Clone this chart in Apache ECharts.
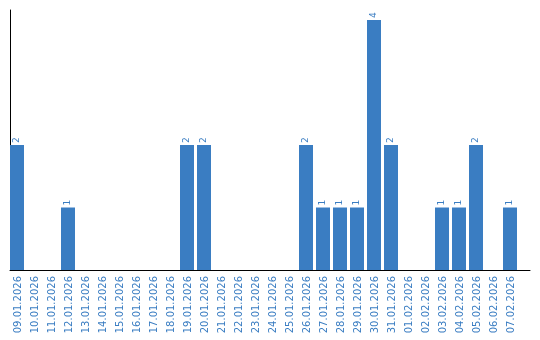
<!DOCTYPE html>
<html><head><meta charset="utf-8">
<script src="https://cdn.jsdelivr.net/npm/echarts@6/dist/echarts.min.js"></script>
<style>html,body{margin:0;padding:0;background:#fff}#c{width:540px;height:340px}</style>
</head><body><div id="c"></div>
<script>
var categories = ["09.01.2026","10.01.2026","11.01.2026","12.01.2026","13.01.2026","14.01.2026","15.01.2026","16.01.2026","17.01.2026","18.01.2026","19.01.2026","20.01.2026","21.01.2026","22.01.2026","23.01.2026","24.01.2026","25.01.2026","26.01.2026","27.01.2026","28.01.2026","29.01.2026","30.01.2026","31.01.2026","01.02.2026","02.02.2026","03.02.2026","04.02.2026","05.02.2026","06.02.2026","07.02.2026"];
var counts = [2,0,0,1,0,0,0,0,0,0,2,2,0,0,0,0,0,2,1,1,1,4,2,0,0,1,1,2,0,1];
var blue = '#3a7dc2';
var chart = echarts.init(document.getElementById('c'));
chart.setOption({
  animation:false,
  grid:[{left:10,top:10,width:510,bottom:70},{left:10,top:10,width:520,bottom:70}],
  xAxis:[{type:'category',gridIndex:0,data:categories,
    axisLine:{show:false},axisTick:{show:false},
    axisLabel:{interval:0,rotate:90,color:blue,fontFamily:'DejaVu Sans',fontSize:10,margin:6}},
    {type:'value',gridIndex:1,min:0,max:1,axisLine:{show:true,lineStyle:{color:'#000',width:1}},
     axisTick:{show:false},axisLabel:{show:false},splitLine:{show:false}}],
  yAxis:[{type:'value',gridIndex:0,min:0,max:4.16,axisLine:{show:true,lineStyle:{color:'#000',width:1}},
    axisTick:{show:false},axisLabel:{show:false},splitLine:{show:false}},
    {type:'value',gridIndex:1,show:false}],
  series:[{type:'bar',xAxisIndex:0,yAxisIndex:0,data:counts,barWidth:14,barGap:0,
    itemStyle:{color:blue},
    label:{show:true,position:'top',rotate:90,align:'left',verticalAlign:'middle',distance:2,
      color:blue,fontFamily:'DejaVu Sans',fontSize:9,
      formatter:function(p){return p.value?String(p.value):'';}}},
    {type:'bar',xAxisIndex:0,yAxisIndex:0,data:categories.map(function(){return null;}),barWidth:3,barGap:0,silent:true}]
});
</script></body></html>
